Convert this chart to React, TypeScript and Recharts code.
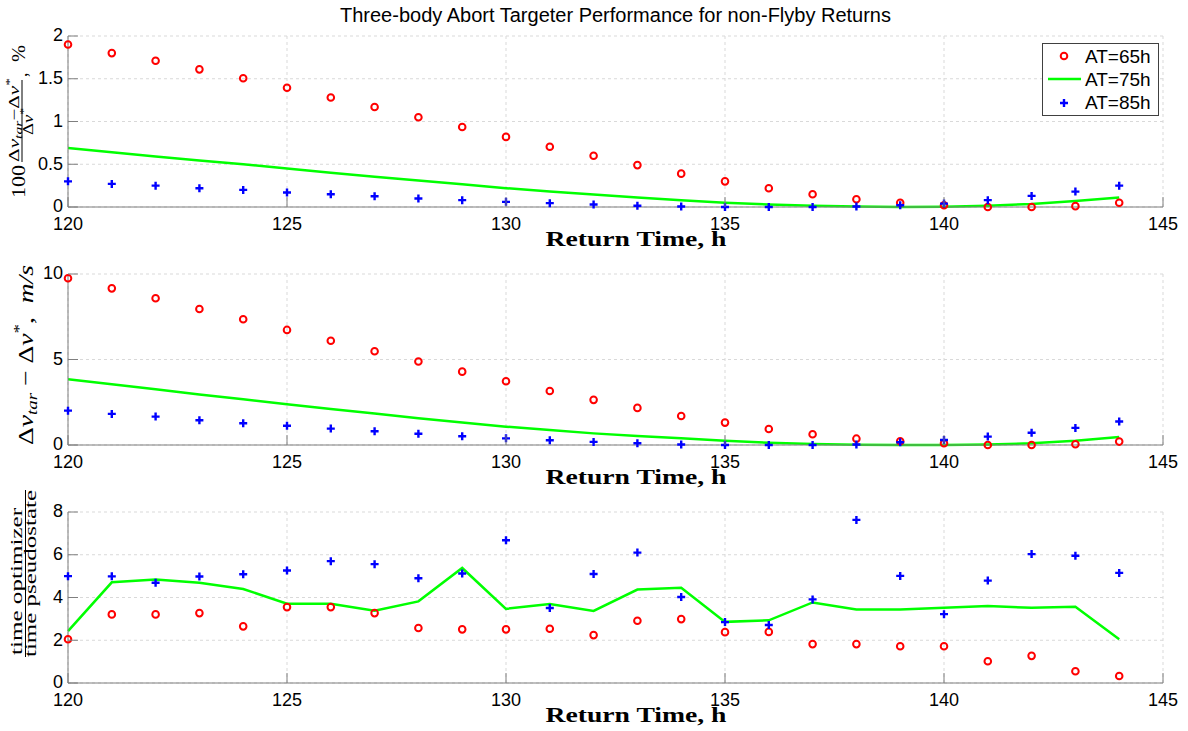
import React from 'react';
import { ComposedChart, Line, XAxis, YAxis, CartesianGrid, Legend } from 'recharts';

// ---------- data ----------
const hours = [120, 121, 122, 123, 124, 125, 126, 127, 128, 129, 130, 131, 132, 133, 134, 135, 136, 137, 138, 139, 140, 141, 142, 143, 144];

const pctAT65 = [1.90, 1.80, 1.71, 1.61, 1.505, 1.395, 1.28, 1.17, 1.05, 0.935, 0.82, 0.705, 0.60, 0.49, 0.39, 0.30, 0.22, 0.15, 0.09, 0.05, 0.02, 0.0, 0.0, 0.01, 0.05];
const pctAT75 = [0.69, 0.64, 0.59, 0.545, 0.50, 0.45, 0.40, 0.355, 0.31, 0.265, 0.22, 0.18, 0.145, 0.11, 0.08, 0.05, 0.03, 0.015, 0.005, 0.0, 0.002, 0.015, 0.035, 0.07, 0.11];
const pctAT85 = [0.30, 0.27, 0.25, 0.22, 0.20, 0.17, 0.15, 0.125, 0.10, 0.08, 0.06, 0.045, 0.03, 0.015, 0.005, 0.0, 0.0, 0.0, 0.005, 0.02, 0.04, 0.08, 0.13, 0.18, 0.25];

const dvAT65 = [9.75, 9.16, 8.58, 7.95, 7.35, 6.73, 6.10, 5.48, 4.88, 4.29, 3.73, 3.16, 2.64, 2.17, 1.70, 1.31, 0.94, 0.63, 0.37, 0.22, 0.10, 0.0, 0.0, 0.04, 0.20];
const dvAT75 = [3.85, 3.55, 3.26, 2.96, 2.67, 2.38, 2.10, 1.84, 1.56, 1.31, 1.07, 0.88, 0.68, 0.53, 0.39, 0.25, 0.13, 0.06, 0.02, 0.0, 0.0, 0.03, 0.10, 0.25, 0.47];
const dvAT85 = [2.01, 1.82, 1.66, 1.45, 1.27, 1.13, 0.96, 0.80, 0.66, 0.51, 0.39, 0.28, 0.18, 0.10, 0.03, 0.0, 0.0, 0.0, 0.03, 0.16, 0.29, 0.49, 0.72, 1.00, 1.37];

const ratioAT65 = [2.05, 3.21, 3.21, 3.27, 2.65, 3.55, 3.55, 3.27, 2.57, 2.51, 2.51, 2.54, 2.24, 2.91, 2.99, 2.38, 2.39, 1.82, 1.82, 1.72, 1.72, 1.02, 1.27, 0.55, 0.33];
const ratioAT75 = [2.43, 4.71, 4.84, 4.69, 4.40, 3.71, 3.71, 3.38, 3.82, 5.38, 3.47, 3.69, 3.37, 4.37, 4.46, 2.86, 2.93, 3.77, 3.44, 3.44, 3.52, 3.60, 3.52, 3.57, 2.05];
const ratioAT85 = [5.00, 4.99, 4.69, 4.98, 5.09, 5.26, 5.70, 5.56, 4.90, 5.12, 6.68, 3.51, 5.10, 6.10, 4.02, 2.85, 2.71, 3.91, 7.63, 5.01, 3.22, 4.79, 6.03, 5.95, 5.15];

const xTicks = [120, 125, 130, 135, 140, 145];
const pctTicks = [0, 0.5, 1, 1.5, 2];
const dvTicks = [0, 5, 10];
const ratioTicks = [0, 2, 4, 6, 8];

const seriesNames = ['AT=65h', 'AT=75h', 'AT=85h'];
const titleText = 'Three-body Abort Targeter Performance for non-Flyby Returns';
const xLabelText = 'Return Time, h';

const buildRows = (a: number[], b: number[], c: number[]) =>
  hours.map((t, i) => ({ t, a65: a[i], a75: b[i], a85: c[i] }));

const pctRows = buildRows(pctAT65, pctAT75, pctAT85);
const dvRows = buildRows(dvAT65, dvAT75, dvAT85);
const ratioRows = buildRows(ratioAT65, ratioAT75, ratioAT85);

// ---------- styles ----------
const SANS = '"Liberation Sans", Arial, Helvetica, sans-serif';
const SERIF = '"Liberation Serif", "Times New Roman", serif';
const AXIS_COLOR = '#7f7f7f';
const GRID_COLOR = '#d9d9d9';
const RED = '#ff0000';
const GREEN = '#00ff00';
const BLUE = '#0000ff';

const XTick = (props: any) => {
  const { x, y, payload } = props;
  return (
    <g>
      <line x1={x} y1={y} x2={x} y2={y - 10} stroke={AXIS_COLOR} strokeWidth={1} />
      <text x={x} y={y + 23} textAnchor="middle" fontSize={18} fontFamily={SANS} fill="#000">
        {payload.value}
      </text>
    </g>
  );
};

const YTick = (props: any) => {
  const { x, y, payload } = props;
  return (
    <g>
      <line x1={x} y1={y} x2={x + 10} y2={y} stroke={AXIS_COLOR} strokeWidth={1} />
      <text x={x - 5} y={y} dy="0.3em" textAnchor="end" fontSize={18} fontFamily={SANS} fill="#000">
        {payload.value}
      </text>
    </g>
  );
};

const redCircle = (p: any) => {
  if (p.cx == null || p.cy == null) return <g key={`r${p.index}`} />;
  return <circle key={`r${p.index}`} cx={p.cx} cy={p.cy} r={3.3} fill="none" stroke={RED} strokeWidth={2} />;
};

const bluePlus = (p: any) => {
  if (p.cx == null || p.cy == null) return <g key={`b${p.index}`} />;
  return (
    <path
      key={`b${p.index}`}
      d={`M${p.cx - 4},${p.cy}H${p.cx + 4}M${p.cx},${p.cy - 4}V${p.cy + 4}`}
      stroke={BLUE}
      strokeWidth={2.4}
      fill="none"
    />
  );
};

const XLabel = (props: any) => {
  const vb = props.viewBox || {};
  const y = vb.y != null ? vb.y : 207;
  return (
    <text
      x={636}
      y={y + 39}
      textAnchor="middle"
      fontFamily={SERIF}
      fontWeight="bold"
      fontSize={22}
      textLength={181}
      lengthAdjust="spacingAndGlyphs"
      fill="#000"
    >
      {xLabelText}
    </text>
  );
};

const PctYLabel = (props: any) => {
  const pt = props.viewBox && props.viewBox.y != null ? props.viewBox.y : 36;
  return (
    <g fontFamily={SERIF} fill="#000">
      <text transform="rotate(-90)" x={-(pt + 162)} y={25} fontSize={19} textLength={33} lengthAdjust="spacingAndGlyphs">100</text>
      <text transform="rotate(-90)" x={-(pt + 84)} y={19} fontSize={15} textAnchor="middle" textLength={84} lengthAdjust="spacingAndGlyphs">
        Δ<tspan fontStyle="italic">v</tspan>
        <tspan fontStyle="italic" fontSize={11} dy={3}>tar</tspan>
        <tspan dy={-3}>−Δ</tspan>
        <tspan fontStyle="italic">v</tspan>
        <tspan fontSize={11} dy={-6}>*</tspan>
      </text>
      <line x1={22} x2={22} y1={pt + 44} y2={pt + 126} stroke="#000" strokeWidth={1} />
      <text transform="rotate(-90)" x={-(pt + 85.5)} y={33} fontSize={15} textAnchor="middle" textLength={27} lengthAdjust="spacingAndGlyphs">
        Δ<tspan fontStyle="italic">v</tspan>
        <tspan fontSize={11} dy={-6}>*</tspan>
      </text>
      <text transform="rotate(-90)" x={-(pt + 41)} y={27} fontSize={18}>,</text>
      <text transform="rotate(-90)" x={-(pt + 26)} y={25} fontSize={18} textLength={17} lengthAdjust="spacingAndGlyphs">%</text>
    </g>
  );
};

const DvYLabel = (props: any) => {
  const pt = props.viewBox && props.viewBox.y != null ? props.viewBox.y : 36;
  return (
    <text
      transform="rotate(-90)"
      x={-(pt + 81)}
      y={33}
      fontSize={22}
      textAnchor="middle"
      textLength={180}
      lengthAdjust="spacingAndGlyphs"
      fontFamily={SERIF}
      fill="#000"
    >
      Δ<tspan fontStyle="italic">v</tspan>
      <tspan fontStyle="italic" fontSize={15} dy={4}>tar</tspan>
      <tspan dy={-4}>{'\u00a0−\u00a0Δ'}</tspan>
      <tspan fontStyle="italic">v</tspan>
      <tspan fontSize={15} dy={-9}>*</tspan>
      <tspan dy={9}>{',\u00a0\u00a0'}</tspan>
      <tspan fontStyle="italic">m/s</tspan>
    </text>
  );
};

const RatioYLabel = (props: any) => {
  const pt = props.viewBox && props.viewBox.y != null ? props.viewBox.y : 36;
  return (
    <g fontFamily={SERIF} fill="#000">
      <text transform="rotate(-90)" x={-(pt + 69.5)} y={22} fontSize={16} textAnchor="middle" textLength={147} lengthAdjust="spacingAndGlyphs">
        time optimizer
      </text>
      <line x1={25.5} x2={25.5} y1={pt - 22} y2={pt + 145} stroke="#000" strokeWidth={1} />
      <text transform="rotate(-90)" x={-(pt + 61.5)} y={36} fontSize={16} textAnchor="middle" textLength={167} lengthAdjust="spacingAndGlyphs">
        time pseudostate
      </text>
    </g>
  );
};

const LegendBox = () => (
  <svg width={117} height={73} style={{ display: 'block' }}>
    <rect x={0.5} y={0.5} width={116} height={72} fill="#fff" stroke="#404040" strokeWidth={1} />
    <circle cx={22} cy={13} r={3.3} fill="none" stroke={RED} strokeWidth={2} />
    <line x1={6} x2={39} y1={36} y2={36} stroke={GREEN} strokeWidth={2.5} />
    <path d="M18,60H26M22,56V64" stroke={BLUE} strokeWidth={2.4} fill="none" />
    <text x={43} y={20} fontSize={19} fontFamily={SANS} fill="#000">{seriesNames[0]}</text>
    <text x={43} y={43} fontSize={19} fontFamily={SANS} fill="#000">{seriesNames[1]}</text>
    <text x={43} y={66} fontSize={19} fontFamily={SANS} fill="#000">{seriesNames[2]}</text>
  </svg>
);

type PanelProps = {
  rows: any[];
  domain: [number, number];
  ticks: number[];
  height: number;
  bottom: number;
  yLabel: any;
  legend?: boolean;
};

const Panel = ({ rows, domain, ticks, height, bottom, yLabel, legend }: PanelProps) => (
  <ComposedChart width={1188} height={height} data={rows} margin={{ top: 36, right: 25, left: 0, bottom }}>
    <CartesianGrid strokeDasharray="3 3" stroke={GRID_COLOR} />
    <XAxis
      dataKey="t"
      type="number"
      domain={[120, 145]}
      ticks={xTicks}
      height={45}
      tickSize={0}
      tickMargin={0}
      tickLine={false}
      axisLine={{ stroke: AXIS_COLOR }}
      tick={(p: any) => <XTick {...p} />}
      interval={0}
      label={{ content: (p: any) => <XLabel {...p} /> }}
    />
    <YAxis
      type="number"
      domain={domain}
      ticks={ticks}
      width={68}
      tickSize={0}
      tickMargin={0}
      tickLine={false}
      axisLine={{ stroke: AXIS_COLOR }}
      tick={(p: any) => <YTick {...p} />}
      interval={0}
      label={{ content: yLabel }}
    />
    <Line dataKey="a65" stroke="none" strokeWidth={0} dot={redCircle} activeDot={false} isAnimationActive={false} legendType="none" />
    <Line dataKey="a75" stroke={GREEN} strokeWidth={2.5} dot={false} activeDot={false} isAnimationActive={false} type="linear" />
    <Line dataKey="a85" stroke="none" strokeWidth={0} dot={bluePlus} activeDot={false} isAnimationActive={false} legendType="none" />
    {legend ? (
      <Legend
        layout="vertical"
        align="center"
        verticalAlign="middle"
        wrapperStyle={{ left: 1042, top: 43, width: 117, height: 73 }}
        content={() => <LegendBox />}
      />
    ) : null}
  </ComposedChart>
);

export default function App() {
  return (
    <div style={{ position: 'absolute', left: 0, top: 0, width: 1188, height: 731, background: '#fff', overflow: 'hidden' }}>
      <div
        style={{
          position: 'absolute',
          left: 68,
          top: 5,
          width: 1095,
          textAlign: 'center',
          fontFamily: SANS,
          fontSize: 20,
          lineHeight: '20px',
          color: '#000',
          whiteSpace: 'nowrap',
          zIndex: 5,
        }}
      >
        {titleText}
      </div>
      <div style={{ position: 'absolute', left: 0, top: 0 }}>
        <Panel rows={pctRows} domain={[0, 2]} ticks={pctTicks} height={260} bottom={8} yLabel={(p: any) => <PctYLabel {...p} />} legend />
      </div>
      <div style={{ position: 'absolute', left: 0, top: 238 }}>
        <Panel rows={dvRows} domain={[0, 10]} ticks={dvTicks} height={260} bottom={8} yLabel={(p: any) => <DvYLabel {...p} />} />
      </div>
      <div style={{ position: 'absolute', left: 0, top: 476 }}>
        <Panel rows={ratioRows} domain={[0, 8]} ticks={ratioTicks} height={255} bottom={3} yLabel={(p: any) => <RatioYLabel {...p} />} />
      </div>
    </div>
  );
}
